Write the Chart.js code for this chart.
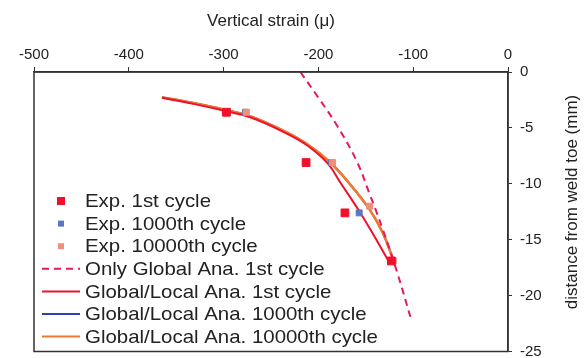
<!DOCTYPE html>
<html>
<head>
<meta charset="utf-8">
<script src="https://cdn.jsdelivr.net/npm/chart.js@4.4.1/dist/chart.umd.min.js"></script>
<style>
  html, body { margin: 0; padding: 0; background: #fff; }
  #wrap { width: 585px; height: 358px; }
</style>
</head>
<body>
<div id="wrap"><canvas id="strainChart"></canvas></div>
<script>
var xTicks = [-500, -400, -300, -200, -100, 0];
var yTicks = [0, -5, -10, -15, -20, -25];

// experiments (strain, depth)
var exp1Strain = [-297, -213, -172, -123];
var exp1Depth = [-3.6, -8.1, -12.6, -16.9];
var exp1000Strain = [-277, -186, -157, -122];
var exp1000Depth = [-3.6, -8.1, -12.6, -16.9];
var exp10000Strain = [-276, -185, -146, -121];
var exp10000Depth = [-3.6, -8.1, -12.0, -16.9];

// only global analysis
var globalStrain = [-219, -200, -181, -160, -146, -132, -117, -103];
var globalDepth = [0, -2.3, -4.7, -7.9, -10.9, -14.1, -17.9, -21.9];

// global/local analysis
var gl1Strain = [-365, -332, -300, -272, -237, -212, -190, -176, -158, -143, -126];
var gl1Depth = [-2.3, -2.85, -3.45, -4.05, -5.35, -6.55, -8.2, -10.0, -12.3, -14.4, -16.9];
var gl1000Strain = [-365, -332, -300, -272, -237, -212, -188, -167, -146, -132, -121];
var gl1000Depth = [-2.25, -2.78, -3.35, -3.95, -5.25, -6.45, -8.05, -10.0, -12.3, -14.4, -16.8];
var gl10000Strain = [-365, -332, -300, -272, -237, -212, -188, -167, -146, -132, -121];
var gl10000Depth = [-2.25, -2.78, -3.35, -3.95, -5.25, -6.45, -8.05, -10.0, -12.3, -14.4, -16.8];

function pts(xs, ys) {
  return xs.map(function (x, i) { return { x: x, y: ys[i] }; });
}

var FONT = "'Liberation Sans', Arial, sans-serif";
var INK = '#222';

var legendInside = {
  id: 'legendInside',
  afterDraw: function (chart) {
    var ctx = chart.ctx;
    var x0 = 42, x1 = 80, tx = 85, y = 201, step = 22.6;
    ctx.save();
    ctx.font = '19px ' + FONT;
    ctx.textBaseline = 'middle';
    ctx.textAlign = 'left';
    chart.data.datasets.forEach(function (ds) {
      if (ds.showLine) {
        ctx.strokeStyle = ds.borderColor;
        ctx.lineWidth = 2;
        ctx.setLineDash(ds.borderDash || []);
        ctx.beginPath();
        ctx.moveTo(x0, y);
        ctx.lineTo(x1, y);
        ctx.stroke();
        ctx.setLineDash([]);
      } else {
        var s = ds.legendBox;
        ctx.fillStyle = ds.backgroundColor;
        ctx.fillRect(61 - s / 2, y - s / 2, s, s);
      }
      ctx.save();
      ctx.translate(tx, y + 1);
      ctx.scale(1.075, 1);
      ctx.fillStyle = INK;
      ctx.fillText(ds.label, 0, 0);
      ctx.restore();
      y += step;
    });
    ctx.restore();
  }
};

var frame = {
  id: 'frame',
  afterDraw: function (chart) {
    var a = chart.chartArea, ctx = chart.ctx;
    ctx.save();
    ctx.strokeStyle = '#333';
    ctx.lineWidth = 1.5;
    ctx.strokeRect(a.left, a.top, a.right - a.left, a.bottom - a.top);
    // y title, reading upward
    ctx.translate(572, 202);
    ctx.rotate(-Math.PI / 2);
    ctx.font = '17px ' + FONT;
    ctx.fillStyle = INK;
    ctx.textAlign = 'center';
    ctx.textBaseline = 'middle';
    ctx.fillText('distance from weld toe (mm)', 0, 0);
    ctx.restore();
  }
};

var ctx = document.getElementById('strainChart').getContext('2d');
var strainChart = new Chart(ctx, {
  type: 'scatter',
  data: {
    datasets: [{
      label: 'Exp. 1st cycle',
      data: pts(exp1Strain, exp1Depth),
      backgroundColor: '#f0102a',
      borderColor: '#f0102a',
      pointStyle: 'rect',
      pointRadius: 5.5,
      legendBox: 8,
      order: 0
    }, {
      label: 'Exp. 1000th cycle',
      data: pts(exp1000Strain, exp1000Depth),
      backgroundColor: '#5878c0',
      borderColor: '#5878c0',
      pointStyle: 'rect',
      pointRadius: 4.2,
      legendBox: 6,
      order: 0.4
    }, {
      label: 'Exp. 10000th cycle',
      data: pts(exp10000Strain, exp10000Depth),
      backgroundColor: '#f0907a',
      borderColor: '#f0907a',
      pointStyle: 'rect',
      pointRadius: 4.2,
      legendBox: 6,
      order: 0.2
    }, {
      label: 'Only Global Ana. 1st cycle',
      data: pts(globalStrain, globalDepth),
      showLine: true,
      borderColor: '#e8185a',
      borderWidth: 2,
      borderDash: [7, 5],
      pointRadius: 0,
      tension: 0.4,
      order: 1
    }, {
      label: 'Global/Local Ana. 1st cycle',
      data: pts(gl1Strain, gl1Depth),
      showLine: true,
      borderColor: '#f0102a',
      borderWidth: 2,
      pointRadius: 0,
      tension: 0.4,
      order: 1
    }, {
      label: 'Global/Local Ana. 1000th cycle',
      data: pts(gl1000Strain, gl1000Depth),
      showLine: true,
      borderColor: '#3040b0',
      borderWidth: 2,
      pointRadius: 0,
      tension: 0.4,
      order: 2
    }, {
      label: 'Global/Local Ana. 10000th cycle',
      data: pts(gl10000Strain, gl10000Depth),
      showLine: true,
      borderColor: '#ee7a30',
      borderWidth: 2.5,
      pointRadius: 0,
      tension: 0.4,
      order: 1
    }]
  },
  options: {
    responsive: true,
    maintainAspectRatio: false,
    animation: false,
    layout: { padding: { left: 34, right: 0, top: 0, bottom: 3 } },
    plugins: {
      legend: { display: false },
      tooltip: { enabled: false }
    },
    scales: {
      x: {
        type: 'linear',
        position: 'top',
        min: -500,
        max: 0,
        afterBuildTicks: function (scale) {
          scale.ticks = xTicks.map(function (v) { return { value: v }; });
        },
        afterFit: function (scale) {
          scale.height = 72;
          scale.paddingLeft = 0;
          scale.paddingRight = 0;
        },
        ticks: { color: INK, font: { family: FONT, size: 15 }, padding: 3, maxRotation: 0 },
        grid: { drawOnChartArea: false, drawTicks: true, tickLength: 5, color: '#333' },
        border: { display: true, color: '#333', width: 1.5 },
        title: {
          display: true,
          text: 'Vertical strain (μ)',
          color: INK,
          font: { family: FONT, size: 17 },
          padding: { top: 11, bottom: 0 }
        }
      },
      y: {
        type: 'linear',
        position: 'right',
        min: -25,
        max: 0,
        afterBuildTicks: function (scale) {
          scale.ticks = yTicks.map(function (v) { return { value: v }; });
        },
        afterFit: function (scale) {
          scale.width = 77;
          scale.paddingTop = 0;
          scale.paddingBottom = 0;
        },
        ticks: { color: INK, font: { family: FONT, size: 15 }, padding: 8 },
        grid: { drawOnChartArea: false, drawTicks: true, tickLength: 4, color: '#333' },
        border: { display: true, color: '#333', width: 1.5 }
      }
    }
  },
  plugins: [legendInside, frame]
});
</script>
</body>
</html>
